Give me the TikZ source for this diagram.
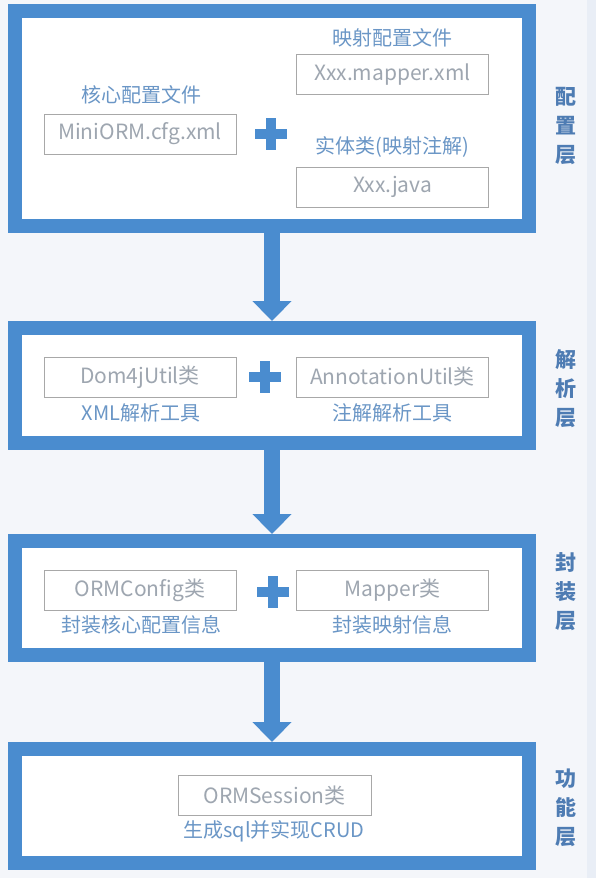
\documentclass[tikz,border=0pt]{standalone}
\usepackage{fontspec}
\setmainfont{Noto Sans CJK SC}
\usetikzlibrary{arrows.meta}
\definecolor{layerblue}{HTML}{4A8CCF}
\definecolor{boxgray}{HTML}{A8A8A8}
\definecolor{textgray}{HTML}{9EA6B0}
\definecolor{noteblue}{HTML}{6A96C6}
\definecolor{sideblue}{HTML}{4E7CB3}
\definecolor{bgcol}{HTML}{F4F6FA}
\definecolor{stripcol}{HTML}{E9EEF6}

\begin{document}
\begin{tikzpicture}[x=1pt,y=-1pt,
  font=\fontsize{20}{24}\selectfont,
  layer/.style={draw=layerblue,line width=14pt,fill=white,minimum width=514pt,inner sep=0pt},
  cls/.style={draw=boxgray,line width=0.9pt,fill=white,minimum width=192pt,minimum height=40pt,text=textgray,
    font=\fontsize{21}{24}\selectfont,inner sep=0pt},
  note/.style={text=noteblue,inner sep=0pt},
  side/.style={text=sideblue,font=\fontsize{21}{29}\selectfont\bfseries,align=center,inner sep=0pt},
  flow/.style={draw=layerblue,line width=16pt,-{Triangle[length=20pt,width=38pt]}},
  plusmark/.style={minimum size=32pt,inner sep=0pt,path picture={
      \fill[layerblue] ([yshift=-5pt]path picture bounding box.west) rectangle ([yshift=5pt]path picture bounding box.east);
      \fill[layerblue] ([xshift=-5pt]path picture bounding box.south) rectangle ([xshift=5pt]path picture bounding box.north);}}]
  \useasboundingbox (0,0) rectangle (596,878);
  \fill[bgcol] (0,0) rectangle (596,878);
  \fill[stripcol] (587,0) rectangle (596,878);

  % layers
  \node[layer,minimum height=215pt] (conf) at (272,118.5) {};
  \node[layer,minimum height=115pt] (parse) at (272,385.5) {};
  \node[layer,minimum height=114pt] (wrap) at (272,598) {};
  \node[layer,minimum height=114pt] (func) at (272,806) {};

  % config layer
  \node[note] (coreN) at (141,95) {核心配置文件};
  \node[cls] (cfg) at (140,134) {MiniORM.cfg.xml};
  \node[plusmark] (plusA) at (271,134) {};
  \node[note] (mapN) at (392,38) {映射配置文件};
  \node[cls] (mapxml) at (392.5,74.5) {Xxx.mapper.xml};
  \node[note] (entN) at (392,147) {实体类(映射注解)};
  \node[cls] (java) at (392.5,187) {Xxx.java};
  \node[side] (confS) at (566,126) {配\\置\\层};

  % parse layer
  \node[cls] (dom) at (140,377) {Dom4jUtil类};
  \node[note] (domN) at (141,413) {XML解析工具};
  \node[plusmark] (plusB) at (265,377) {};
  \node[cls] (anno) at (392.5,377) {AnnotationUtil类};
  \node[note] (annoN) at (392,413) {注解解析工具};
  \node[side] (parseS) at (566,389) {解\\析\\层};

  % wrap layer
  \node[cls] (ormcfg) at (140,590.5) {ORMConfig类};
  \node[note] (ormcfgN) at (141,625) {封装核心配置信息};
  \node[plusmark] (plusC) at (273,592) {};
  \node[cls] (mapper) at (392.5,590.5) {Mapper类};
  \node[note] (mapperN) at (392,625) {封装映射信息};
  \node[side] (wrapS) at (566,592) {封\\装\\层};

  % function layer
  \node[cls,minimum width=193pt] (sess) at (274.5,795.5) {ORMSession类};
  \node[note] (sessN) at (274,831) {生成sql并实现CRUD};
  \node[side] (funcS) at (566,808) {功\\能\\层};

  \draw[flow] (conf.south) -- (parse.north);
  \draw[flow] (parse.south) -- (wrap.north);
  \draw[flow] (wrap.south) -- (func.north);
\end{tikzpicture}
\end{document}
